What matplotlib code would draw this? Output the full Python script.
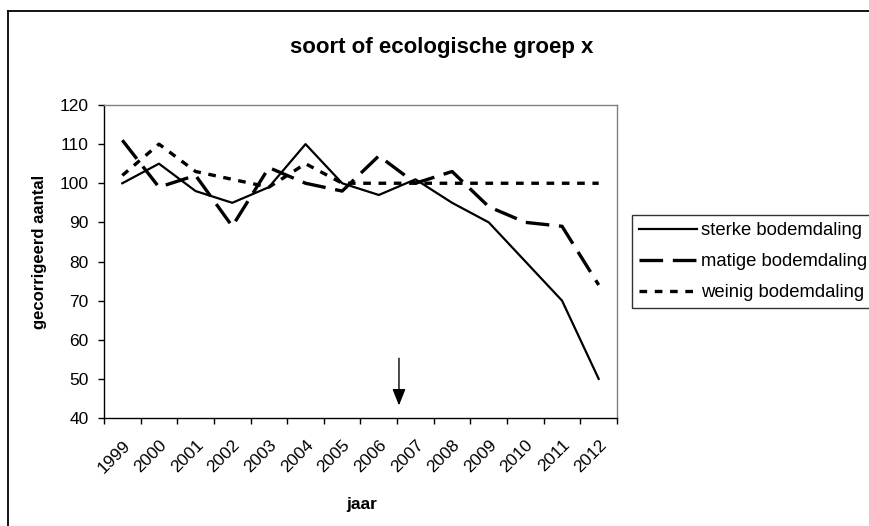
import matplotlib
matplotlib.use('Agg')
import matplotlib.pyplot as plt
import matplotlib.transforms as mtransforms
from matplotlib.lines import Line2D
import numpy as np

plt.rcParams['font.family'] = ['Liberation Sans', 'DejaVu Sans']
plt.rcParams['lines.scale_dashes'] = False

years = ['1999', '2000', '2001', '2002', '2003', '2004', '2005',
         '2006', '2007', '2008', '2009', '2010', '2011', '2012']
sterke = [100, 105, 98, 95, 99, 110, 100, 97, 101, 95, 90, 80, 70, 50]
matige = [111, 99, 102, 89, 104, 100, 98, 107, 100, 103, 94, 90, 89, 74]
weinig = [102, 110, 103, 101, 99, 105, 100, 100, 100, 100, 100, 100, 100, 100]
series_names = ['sterke bodemdaling', 'matige bodemdaling', 'weinig bodemdaling']

arrow_x = 7.55          # between 2006 and 2007 category
arrow_from, arrow_to = 56, 42.5

W, H = 869, 526
fig = plt.figure(figsize=(W / 100, H / 100), dpi=100)
fig.patch.set_facecolor('white')

# chart-area border (runs off the right and bottom of the picture)
fig.add_artist(Line2D([8 / W, 1.01], [1 - 11 / H, 1 - 11 / H], color='black', lw=1.3))
fig.add_artist(Line2D([8 / W, 8 / W], [1 - 11 / H, -0.01], color='black', lw=1.3))

ax = fig.add_axes([104 / W, 1 - 418 / H, 513 / W, 313 / H])
x = np.arange(len(years))

ax.plot(x, sterke, color='black', lw=1.6, label=series_names[0])
ax.plot(x, matige, color='black', lw=2.4, linestyle=(0, (17, 7)), label=series_names[1])
ax.plot(x, weinig, color='black', lw=2.4, linestyle=(0, (5.5, 5.5)), label=series_names[2])

ax.annotate('', xy=(arrow_x, arrow_to), xytext=(arrow_x, arrow_from),
            arrowprops=dict(arrowstyle='-|>,head_width=0.4,head_length=1.0',
                            color='black', lw=1.0))

ax.set_xlim(-0.5, len(years) - 0.5)
ax.set_ylim(40, 120)
ax.set_yticks(np.arange(40, 121, 10))

# ticks at category boundaries, labels at category centres
ax.set_xticks(np.arange(-0.5, len(years)), labels=[])
ax.set_xticks(x, minor=True)
ax.set_xticklabels(years, minor=True, rotation=45, ha='right', va='top',
                   rotation_mode='anchor', fontsize=12.5)
shift = mtransforms.ScaledTranslation(-7 / 100, 0, fig.dpi_scale_trans)
for lab in ax.get_xticklabels(minor=True):
    lab.set_transform(lab.get_transform() + shift)
ax.tick_params(axis='x', which='minor', length=0, pad=14)
ax.tick_params(axis='x', which='major', length=4, width=1, direction='out')
ax.tick_params(axis='y', length=4, width=1, direction='out', labelsize=12.5, pad=7)

for s in ['top', 'right']:
    ax.spines[s].set_color('#808080')
    ax.spines[s].set_linewidth(1.0)
for s in ['left', 'bottom']:
    ax.spines[s].set_color('black')
    ax.spines[s].set_linewidth(1.0)

fig.text(442 / W, 1 - 47 / H, 'soort of ecologische groep x', ha='center', va='center',
         fontsize=16, fontweight='bold')
fig.text(362 / W, 1 - 504 / H, 'jaar', ha='center', va='center',
         fontsize=12.5, fontweight='bold')
fig.text(40 / W, 1 - 252 / H, 'gecorrigeerd aantal', ha='center', va='center',
         rotation=90, fontsize=12, fontweight='bold')

leg = fig.legend(loc='upper left', bbox_to_anchor=(632 / W, 1 - 215 / H),
                 bbox_transform=fig.transFigure, fontsize=13.3, frameon=True,
                 fancybox=False, shadow=False, borderaxespad=0, borderpad=0.4,
                 handlelength=3.1, handletextpad=0.25, labelspacing=0.75)
leg.get_frame().set_edgecolor('black')
leg.get_frame().set_linewidth(1.0)

fig.savefig('out.png', dpi=100, facecolor='white')
